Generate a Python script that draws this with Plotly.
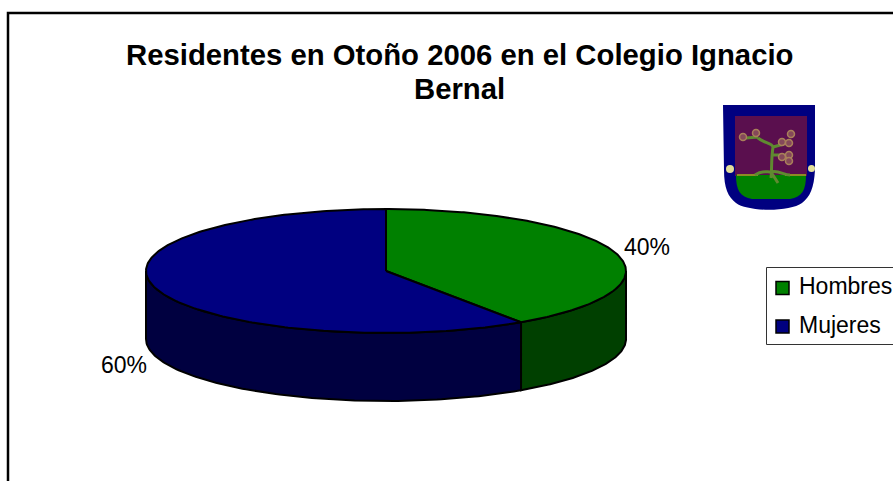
import numpy as np
import plotly.graph_objects as go

# --- data ---
categories = ["Hombres", "Mujeres"]
values = [40.49, 59.51]
value_labels = ["40%", "60%"]
title_lines = ["Residentes en Otoño 2006 en el Colegio Ignacio", "Bernal"]

# --- style ---
top_colors = ["#008000", "#000080"]
side_colors = ["#004000", "#000040"]
FONT = "Liberation Sans, Arial, sans-serif"
W, H = 893, 481
CX, CY, RX, RY, DEPTH = 386, 271, 240, 62, 68

shares = np.array(values, dtype=float) / sum(values)
edges = np.concatenate([[0], np.cumsum(shares)]) * 2 * np.pi


def px(t):
    return CX + RX * np.sin(t)


def py(t, drop=0):
    return CY - RY * np.cos(t) + drop


fig = go.Figure()
line = dict(color="black", width=2)

# side walls: visible part of the rim is the front half (pi/2 .. 3pi/2)
for i in range(len(values)):
    a = max(edges[i], np.pi / 2)
    b = min(edges[i + 1], 3 * np.pi / 2)
    if b <= a:
        continue
    t = np.linspace(a, b, 120)
    xs = np.concatenate([px(t), px(t[::-1])])
    ys = np.concatenate([py(t), py(t[::-1], DEPTH)])
    fig.add_trace(go.Scatter(x=np.append(xs, xs[0]), y=np.append(ys, ys[0]), mode="lines",
                             fill="toself", fillcolor=side_colors[i], line=line,
                             hoverinfo="skip", showlegend=False))

# top faces
for i in range(len(values)):
    t = np.linspace(edges[i], edges[i + 1], 240)
    xs = np.concatenate([[CX], px(t), [CX]])
    ys = np.concatenate([[CY], py(t), [CY]])
    fig.add_trace(go.Scatter(x=xs, y=ys, mode="lines", fill="toself",
                             fillcolor=top_colors[i], line=line,
                             hoverinfo="skip", showlegend=False))

shapes = [
    # chart frame
    dict(type="rect", x0=8, y0=13, x1=W + 20, y1=H + 20,
         line=dict(color="black", width=2.5), fillcolor="rgba(0,0,0,0)", layer="below"),
    # legend box
    dict(type="rect", x0=766.5, y0=267.5, x1=W + 20, y1=344.5,
         line=dict(color="#333333", width=1), fillcolor="white", layer="below"),
    # legend swatches
    dict(type="rect", x0=776, y0=281.5, x1=789, y1=294.5,
         line=dict(color="black", width=1.5), fillcolor=top_colors[0]),
    dict(type="rect", x0=776, y0=320, x1=789, y1=333,
         line=dict(color="black", width=1.5), fillcolor=top_colors[1]),
    # crest: shield
    dict(type="path", line=dict(width=0), fillcolor="#000080",
         path="M723,105 L815,105 L815,170 C814,188 810,197 802,203 C790,212 748,212 736,203 "
              "C728,197 724,188 724,170 Z"),
    # crest: maroon field
    dict(type="rect", x0=735, y0=116, x1=807, y1=176, line=dict(width=0), fillcolor="#5a0f4e"),
    # crest: green ground
    dict(type="path", line=dict(width=0), fillcolor="#008000",
         path="M736,175 L806,175 C806,190 802,197 790,199 L752,199 C740,197 736,190 736,175 Z"),
    # crest: ground line
    dict(type="path", line=dict(color="#8f8a25", width=2),
         path="M737,175 L758,175 M785,175 L806,175"),
    # crest: tree
    dict(type="path", line=dict(color="#5f8a30", width=3),
         path="M771,178 C772,170 771,160 773,147 C772,143 764,143 758,138 "
              "M758,137 L746,138 M773,155 L785,155 M773,147 L784,144 "
              "M755,175 C762,170 766,172 771,172 C778,170 784,175 790,175 M771,172 L778,183"),
    # crest: studs
    dict(type="circle", x0=726, y0=165, x1=734, y1=173, line=dict(width=0), fillcolor="#e3df9a"),
    dict(type="circle", x0=808, y0=165, x1=815, y1=172, line=dict(width=0), fillcolor="#e3df9a"),
]
# crest: blossoms
for cx, cy in [(743, 137), (756, 133), (791, 134), (782, 142), (789, 143), (782, 157), (789, 155), (789, 161)]:
    shapes.append(dict(type="circle", x0=cx - 3.5, y0=cy - 3.5, x1=cx + 3.5, y1=cy + 3.5,
                       line=dict(width=1.5, color="#a9805a"), fillcolor="#85485a"))

annotations = [
    dict(x=459, y=54, text=title_lines[0], showarrow=False, xanchor="center", yanchor="middle",
         font=dict(family=FONT, size=29.3, color="black", weight="bold")),
    dict(x=459, y=88, text=title_lines[1], showarrow=False, xanchor="center", yanchor="middle",
         font=dict(family=FONT, size=29.3, color="black", weight="bold")),
    dict(x=647, y=247, text=value_labels[0], showarrow=False,
         font=dict(family=FONT, size=23, color="black")),
    dict(x=124, y=365, text=value_labels[1], showarrow=False,
         font=dict(family=FONT, size=23, color="black")),
    dict(x=797, y=286, text=categories[0], showarrow=False, xanchor="left",
         font=dict(family=FONT, size=23, color="black")),
    dict(x=797, y=325, text=categories[1], showarrow=False, xanchor="left",
         font=dict(family=FONT, size=23, color="black")),
]

fig.update_layout(
    width=W, height=H, margin=dict(l=0, r=0, t=0, b=0),
    paper_bgcolor="white", plot_bgcolor="white", showlegend=False,
    xaxis=dict(range=[0, W], visible=False, fixedrange=True),
    yaxis=dict(range=[H, 0], visible=False, fixedrange=True),
    shapes=shapes, annotations=annotations,
)
fig.write_html(
    "out.html",
    config={"displayModeBar": False},
    post_script="document.body.style.margin='0';document.documentElement.style.overflow='hidden';",
)
